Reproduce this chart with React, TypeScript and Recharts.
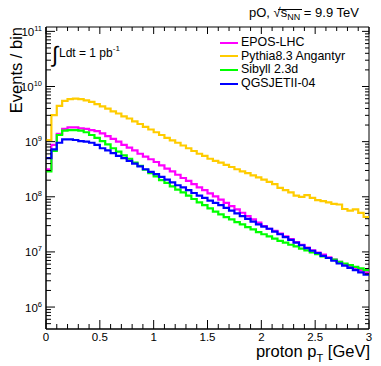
import React from "react";
import { LineChart, Line, XAxis, YAxis, ReferenceArea, Legend } from "recharts";

// bin lower edges in GeV (last entry closes the final bin)
const binEdges = [
  0, 0.05, 0.1, 0.15, 0.2, 0.25, 0.3, 0.35, 0.4, 0.45, 0.5, 0.55, 0.6, 0.65, 0.7, 0.75, 0.8, 0.85, 0.9, 0.95,
  1, 1.05, 1.1, 1.15, 1.2, 1.25, 1.3, 1.35, 1.4, 1.45, 1.5, 1.55, 1.6, 1.65, 1.7, 1.75, 1.8, 1.85, 1.9, 1.95,
  2, 2.05, 2.1, 2.15, 2.2, 2.25, 2.3, 2.35, 2.4, 2.45, 2.5, 2.55, 2.6, 2.65, 2.7, 2.75, 2.8, 2.85, 2.9, 2.95, 3,
];

const eposLhc = [
  3.16e8, 8.71e8, 1.38e9, 1.7e9, 1.82e9, 1.82e9, 1.74e9, 1.7e9, 1.62e9, 1.55e9,
  1.41e9, 1.26e9, 1.12e9, 1.0e9, 8.71e8, 7.76e8, 6.92e8, 6.03e8, 5.37e8, 4.79e8,
  4.27e8, 3.72e8, 3.24e8, 2.88e8, 2.51e8, 2.19e8, 1.95e8, 1.7e8, 1.48e8, 1.32e8,
  1.15e8, 1.02e8, 8.91e7, 7.76e7, 6.76e7, 5.89e7, 5.13e7, 4.47e7, 3.89e7, 3.39e7,
  2.95e7, 2.63e7, 2.4e7, 2.14e7, 1.91e7, 1.7e7, 1.51e7, 1.35e7, 1.2e7, 1.07e7,
  9.77e6, 8.91e6, 7.94e6, 7.24e6, 6.61e6, 6.03e6, 5.5e6, 5.13e6, 4.68e6, 4.27e6,
];

const pythiaAngantyr = [
  1.07e9, 3.02e9, 4.47e9, 5.5e9, 5.89e9, 6.03e9, 5.89e9, 5.62e9, 5.25e9, 4.79e9,
  4.37e9, 3.98e9, 3.55e9, 3.24e9, 2.88e9, 2.63e9, 2.34e9, 2.09e9, 1.86e9, 1.66e9,
  1.48e9, 1.32e9, 1.17e9, 1.05e9, 9.55e8, 8.51e8, 7.59e8, 6.76e8, 6.03e8, 5.5e8,
  4.9e8, 4.47e8, 4.17e8, 3.8e8, 3.47e8, 3.16e8, 2.88e8, 2.69e8, 2.45e8, 2.24e8,
  2.04e8, 1.86e8, 1.7e8, 1.45e8, 1.32e8, 1.2e8, 1.05e8, 1.0e8, 1.07e8, 9.55e7,
  8.71e7, 8.32e7, 7.94e7, 7.41e7, 7.24e7, 6.0e7, 5.6e7, 5.9e7, 5.1e7, 4.3e7,
];

const sibyll = [
  2.88e8, 6.76e8, 1.32e9, 1.58e9, 1.62e9, 1.62e9, 1.58e9, 1.48e9, 1.32e9, 1.17e9,
  1.02e9, 8.91e8, 7.59e8, 6.61e8, 5.62e8, 4.9e8, 4.17e8, 3.63e8, 3.09e8, 2.69e8,
  2.34e8, 2.0e8, 1.78e8, 1.55e8, 1.35e8, 1.2e8, 1.05e8, 9.12e7, 7.94e7, 7.08e7,
  6.17e7, 5.37e7, 4.79e7, 4.27e7, 3.89e7, 3.47e7, 3.16e7, 2.82e7, 2.57e7, 2.29e7,
  2.09e7, 1.91e7, 1.74e7, 1.58e7, 1.48e7, 1.35e7, 1.26e7, 1.15e7, 1.07e7, 9.77e6,
  9.12e6, 8.32e6, 7.76e6, 7.24e6, 6.61e6, 6.17e6, 5.75e6, 5.37e6, 5.01e6, 4.68e6,
];

const qgsjet = [
  5.01e8, 7.24e8, 9.55e8, 1.1e9, 1.1e9, 1.07e9, 1.02e9, 1.0e9, 9.55e8, 8.71e8,
  7.59e8, 6.92e8, 6.17e8, 5.5e8, 5.01e8, 4.47e8, 3.98e8, 3.55e8, 3.16e8, 2.82e8,
  2.57e8, 2.29e8, 2.04e8, 1.82e8, 1.62e8, 1.48e8, 1.32e8, 1.17e8, 1.05e8, 9.55e7,
  8.51e7, 7.76e7, 7.08e7, 6.31e7, 5.62e7, 5.01e7, 4.47e7, 3.98e7, 3.55e7, 3.16e7,
  2.88e7, 2.63e7, 2.34e7, 2.09e7, 1.86e7, 1.66e7, 1.48e7, 1.32e7, 1.17e7, 1.05e7,
  9.55e6, 8.51e6, 7.76e6, 6.92e6, 6.17e6, 5.62e6, 5.13e6, 4.68e6, 4.27e6, 3.89e6,
];

const seriesNames = ["EPOS-LHC", "Pythia8.3 Angantyr", "Sibyll 2.3d", "QGSJETII-04"];
const seriesKeys = ["epos", "pythia", "sibyll", "qgsjet"];
const seriesColors = ["#ff00ff", "#ffcc00", "#00ff00", "#0000ff"];

const xTicks = [
  0, 0.1, 0.2, 0.3, 0.4, 0.5, 0.6, 0.7, 0.8, 0.9, 1, 1.1, 1.2, 1.3, 1.4, 1.5, 1.6, 1.7, 1.8, 1.9,
  2, 2.1, 2.2, 2.3, 2.4, 2.5, 2.6, 2.7, 2.8, 2.9, 3,
];
const xLabels = ["0", "0.5", "1", "1.5", "2", "2.5", "3"];
const yDecades = [1e6, 1e7, 1e8, 1e9, 1e10, 1e11];
const yMin = 4e5;
const yMax = 1.2e11;

// minor ticks 2..9 x each decade (plus 5..9 x 1e5 under the first label)
const yTicks: number[] = [5e5, 6e5, 7e5, 8e5, 9e5];
yDecades.forEach((d) => {
  yTicks.push(d);
  if (d < 1e11) [2, 3, 4, 5, 6, 7, 8, 9].forEach((m) => yTicks.push(m * d));
});

const data = binEdges.map((x, i) => {
  const j = Math.min(i, eposLhc.length - 1);
  return { x, epos: eposLhc[j], pythia: pythiaAngantyr[j], sibyll: sibyll[j], qgsjet: qgsjet[j] };
});

const W = 381;
const H = 366;
const M = { top: 27, right: 12, left: 0, bottom: 0 };
const Y_AXIS_W = 46;
const X_AXIS_H = 37;
const PLOT_W = W - M.right - Y_AXIS_W;
const PLOT_H = H - M.top - X_AXIS_H;
const FONT = '"Liberation Sans", Arial, Helvetica, sans-serif';

const XTick = ({ x, y, payload }: any) => {
  const v = payload.value;
  const major = Math.abs(v * 2 - Math.round(v * 2)) < 1e-6;
  const len = major ? 9 : 5;
  const top = y - PLOT_H;
  return (
    <g>
      <line x1={x} x2={x} y1={y} y2={y - len} stroke="#000" />
      <line x1={x} x2={x} y1={top} y2={top + (major ? 7 : 4)} stroke="#000" />
      {major && (
        <text x={x} y={y + 11.5} textAnchor="middle" fontSize={11.5} fontFamily={FONT} fill="#000">
          {xLabels[Math.round(v * 2)]}
        </text>
      )}
    </g>
  );
};

const YTick = ({ x, y, payload }: any) => {
  const lg = Math.log10(payload.value);
  const major = Math.abs(lg - Math.round(lg)) < 1e-6;
  const len = major ? 9 : 5;
  const right = x + PLOT_W;
  return (
    <g>
      <line x1={x} x2={x + len} y1={y} y2={y} stroke="#000" />
      <line x1={right} x2={right - (major ? 7 : 4)} y1={y} y2={y} stroke="#000" />
      {major && (
        <text x={x - 4} y={y + 4.5} textAnchor="end" fontSize={11.5} fontFamily={FONT} fill="#000">
          <tspan>10</tspan>
          <tspan dy={-5} fontSize={7.5}>{Math.round(lg)}</tspan>
        </text>
      )}
    </g>
  );
};

const LegendBox = () => (
  <div style={{ fontFamily: FONT, fontSize: 12.4, color: "#000", lineHeight: "13.6px" }}>
    {seriesNames.map((n, i) => (
      <div key={n} style={{ display: "flex", alignItems: "center", height: 13.6 }}>
        <span style={{ display: "inline-block", width: 18, height: 2, background: seriesColors[i], marginRight: 3 }} />
        <span style={{ whiteSpace: "nowrap" }}>{n}</span>
      </div>
    ))}
  </div>
);

export default function App() {
  return (
    <div style={{ position: "absolute", left: 0, top: 0, width: W, height: H, background: "#fff" }}>
      <LineChart width={W} height={H} data={data} margin={M}>
        <XAxis
          dataKey="x"
          type="number"
          domain={[0, 3]}
          ticks={xTicks}
          interval={0}
          tickSize={0}
          tickMargin={0}
          tickLine={false}
          axisLine={{ stroke: "#000" }}
          tick={<XTick />}
          height={X_AXIS_H}
          allowDataOverflow
        />
        <YAxis
          type="number"
          scale="log"
          domain={[yMin, yMax]}
          ticks={yTicks}
          interval={0}
          tickSize={0}
          tickMargin={0}
          tickLine={false}
          axisLine={{ stroke: "#000" }}
          tick={<YTick />}
          width={Y_AXIS_W}
          allowDataOverflow
        />
        <ReferenceArea x1={0} x2={3} y1={yMin} y2={yMax} fill="none" stroke="#000" strokeWidth={1} />
        {seriesKeys.map((k, i) => (
          <Line
            key={k}
            dataKey={k}
            name={seriesNames[i]}
            type="stepAfter"
            stroke={seriesColors[i]}
            strokeWidth={2.2}
            dot={false}
            activeDot={false}
            isAnimationActive={false}
          />
        ))}
        <Legend
          layout="vertical"
          align="center"
          verticalAlign="middle"
          wrapperStyle={{ top: 36, left: 220, width: 150, height: 56 }}
          content={<LegendBox />}
        />
      </LineChart>
      <svg
        width={W}
        height={H}
        style={{ position: "absolute", left: 0, top: 0, pointerEvents: "none" }}
        fontFamily={FONT}
      >
        <text transform="rotate(-90)" x={-27} y={22} textAnchor="end" fontSize={16.5} fill="#000">
          Events / bin
        </text>
        <text x={370} y={357} textAnchor="end" fontSize={16.5} fill="#000">
          <tspan>proton p</tspan>
          <tspan dy={5} fontSize={11}>T</tspan>
          <tspan dy={-5}> [GeV]</tspan>
        </text>
        <text x={52} y={62} fontSize={22} fill="#000">∫</text>
        <text x={59} y={57} fontSize={12} fill="#000">
          <tspan>Ldt = 1 pb</tspan>
          <tspan dy={-6} fontSize={8}>-1</tspan>
        </text>
        <text x={249} y={17} fontSize={13} fill="#000">
          <tspan>pO, </tspan>
          <tspan>√</tspan>
          <tspan>s</tspan>
          <tspan dy={3} fontSize={9}>NN</tspan>
          <tspan dy={-3}> = 9.9 TeV</tspan>
        </text>
        <line x1={278} x2={302} y1={9.5} y2={9.5} stroke="#000" strokeWidth={1} />
      </svg>
    </div>
  );
}
